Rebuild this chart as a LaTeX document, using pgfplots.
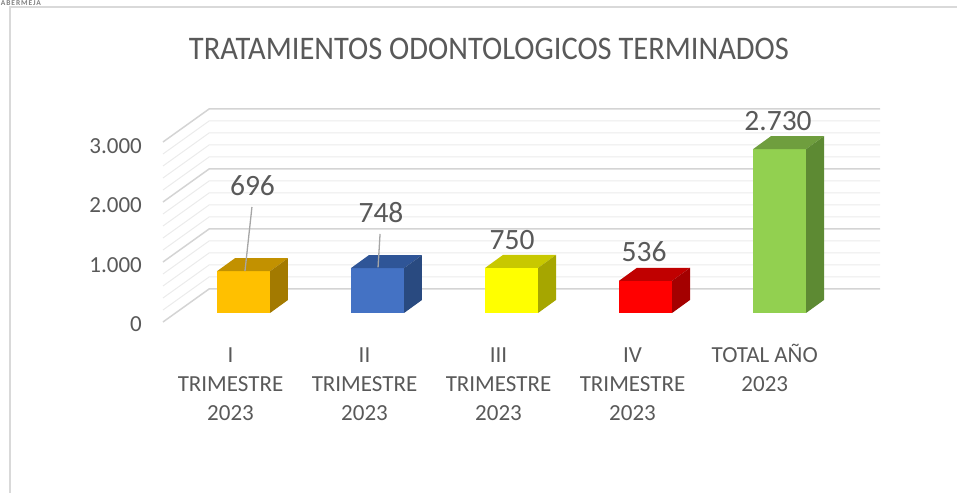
\documentclass[border=0pt]{standalone}
\usepackage{graphicx}
\usepackage{pgfplots}
\pgfplotsset{compat=1.18}
\usepackage{fontspec}
\setmainfont{Carlito}
\definecolor{txt}{HTML}{595959}
\definecolor{gmaj}{HTML}{D4D4D4}
\definecolor{gmin}{HTML}{EBEBEB}
\definecolor{leader}{HTML}{A6A6A6}
\definecolor{frame}{HTML}{D9D9D9}
\definecolor{fA}{HTML}{FFC000}\definecolor{tA}{HTML}{C29100}\definecolor{sA}{HTML}{A37A00}
\definecolor{fB}{HTML}{4472C4}\definecolor{tB}{HTML}{2F5597}\definecolor{sB}{HTML}{294A80}
\definecolor{fC}{HTML}{FFFF00}\definecolor{tC}{HTML}{C8C800}\definecolor{sC}{HTML}{A6A600}
\definecolor{fD}{HTML}{FF0000}\definecolor{tD}{HTML}{C00000}\definecolor{sD}{HTML}{A40000}
\definecolor{fE}{HTML}{92D050}\definecolor{tE}{HTML}{6F9E3E}\definecolor{sE}{HTML}{5D8A33}
\newcommand{\tdbar}[5]{%
  \addplot[ybar, bar width=53.06pt, bar shift=0pt, fill=#3, draw=none] coordinates {(#1,#2)};
  \addplot[fill=#4, draw=none] coordinates {({#1-0.198},#2) ({#1+0.198},#2) ({#1+0.332},{#2+217}) ({#1-0.064},{#2+217})} --cycle;
  \addplot[fill=#5, draw=none] coordinates {({#1+0.198},0) ({#1+0.198},#2) ({#1+0.332},{#2+217}) ({#1+0.332},217)} --cycle;
}
\newcommand{\tickf}{\fontsize{23}{29}\selectfont}
\newcommand{\catf}{\fontsize{23}{29}\selectfont}
\newcommand{\labf}{\fontsize{29.5}{34}\selectfont}
\begin{document}
\begin{tikzpicture}
\begin{axis}[
  scale only axis, width=957pt, height=493pt,
  xmin=-1.8172, xmax=5.3246, ymin=-3000, ymax=5216.67,
  hide axis, clip=false]
\coordinate (bbsw) at (rel axis cs:0,0);
\coordinate (bbne) at (rel axis cs:1,1);
% minor gridlines (back wall and side wall)
\pgfplotsinvokeforeach{200,400,600,800,1200,1400,1600,1800,2200,2400,2600,2800}{
  \addplot[gmin, line width=1pt] coordinates {(-0.601,{#1-150}) (-0.257,{#1+400}) (4.75,{#1+400})};
}
% major gridlines
\pgfplotsinvokeforeach{0,1000,2000,3000}{
  \addplot[gmaj, line width=1.5pt] coordinates {(-0.601,{#1-150}) (-0.257,{#1+400}) (4.75,{#1+400})};
}
% bars
\tdbar{0}{696}{fA}{tA}{sA}
\tdbar{1}{748}{fB}{tB}{sB}
\tdbar{2}{750}{fC}{tC}{sC}
\tdbar{3}{536}{fD}{tD}{sD}
\tdbar{4}{2730}{fE}{tE}{sE}
% leader lines
\addplot[leader, line width=1.3pt] coordinates {(0.063,1767) (0.011,700)};
\addplot[leader, line width=1.3pt] coordinates {(1.019,1317) (1.004,760)};
% data labels
\node[font=\labf, text=txt, inner sep=0pt] at (axis cs:0.067,2117) {696};
\node[font=\labf, text=txt, inner sep=0pt] at (axis cs:1.026,1667) {748};
\node[font=\labf, text=txt, inner sep=0pt] at (axis cs:2.004,1217) {750};
\node[font=\labf, text=txt, inner sep=0pt] at (axis cs:2.989,1017) {536};
\node[font=\labf, text=txt, inner sep=0pt] at (axis cs:3.989,3200) {2.730};
% y tick labels
\node[anchor=east, font=\tickf, text=txt, inner sep=0pt] at (axis cs:-0.757,-183) {0};
\node[anchor=east, font=\tickf, text=txt, inner sep=0pt] at (axis cs:-0.757,800) {1.000};
\node[anchor=east, font=\tickf, text=txt, inner sep=0pt] at (axis cs:-0.757,1800) {2.000};
\node[anchor=east, font=\tickf, text=txt, inner sep=0pt] at (axis cs:-0.757,2783) {3.000};
% category labels
\node[anchor=base, font=\catf, text=txt, inner sep=0pt] at (axis cs:-0.097,-823) {\begin{tabular}[t]{@{}c@{}}I\\TRIMESTRE\\2023\end{tabular}};
\node[anchor=base, font=\catf, text=txt, inner sep=0pt] at (axis cs:0.903,-823) {\begin{tabular}[t]{@{}c@{}}II\\TRIMESTRE\\2023\end{tabular}};
\node[anchor=base, font=\catf, text=txt, inner sep=0pt] at (axis cs:1.903,-823) {\begin{tabular}[t]{@{}c@{}}III\\TRIMESTRE\\2023\end{tabular}};
\node[anchor=base, font=\catf, text=txt, inner sep=0pt] at (axis cs:2.903,-823) {\begin{tabular}[t]{@{}c@{}}IV\\TRIMESTRE\\2023\end{tabular}};
\node[anchor=base, font=\catf, text=txt, inner sep=0pt] at (axis cs:3.89,-823) {\begin{tabular}[t]{@{}c@{}}TOTAL AÑO\\2023\end{tabular}};
% title
\node[font=\fontsize{30.5}{37}\selectfont, text=txt, inner sep=0pt] at (axis cs:1.832,4408) {\scalebox{1}[1.08]{TRATAMIENTOS ODONTOLOGICOS TERMINADOS}};
% frame and header
\draw[frame, line width=1.5pt] (axis cs:-1.7425,-3000) -- (axis cs:-1.7425,5100) -- (axis cs:5.33,5100);
\node[anchor=base west, inner sep=0pt, font=\fontsize{7.5}{8}\selectfont\bfseries, text=gray] at (axis cs:-1.812,5133) {\addfontfeatures{LetterSpace=12}ABERMEJA};
\end{axis}
\pgfresetboundingbox
\useasboundingbox (bbsw) rectangle (bbne);
\end{tikzpicture}
\end{document}
